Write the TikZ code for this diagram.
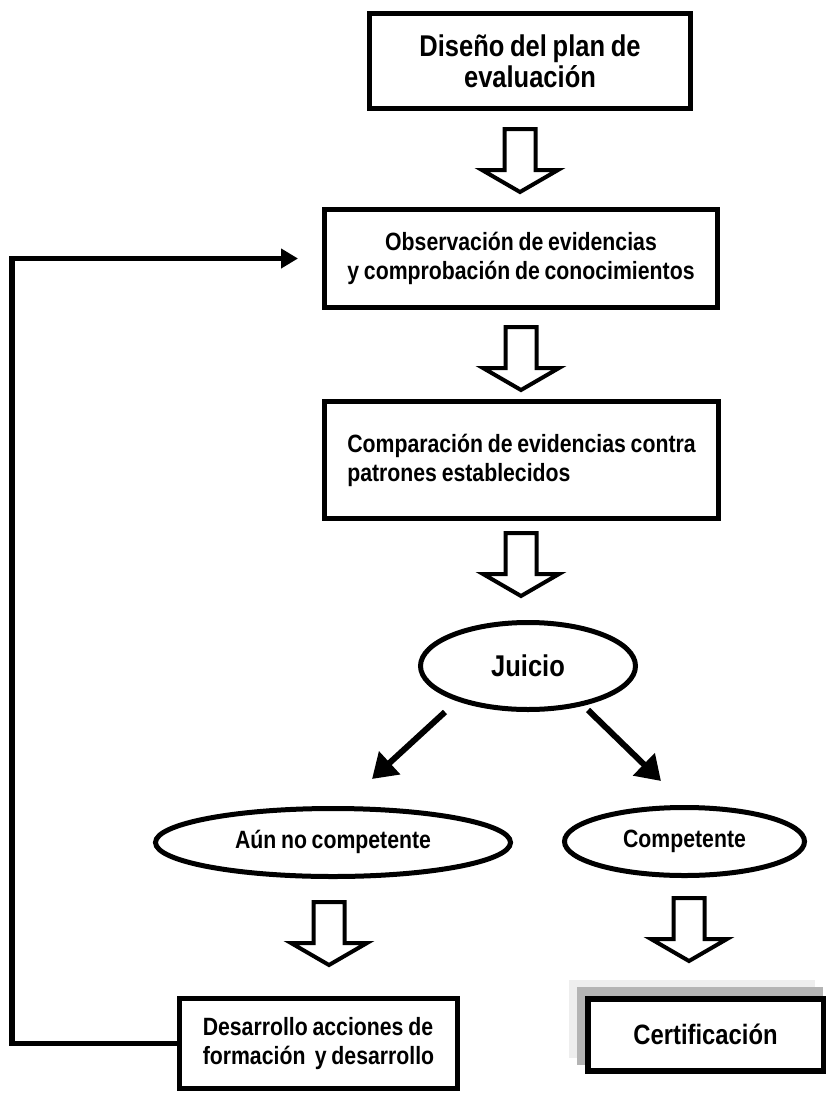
\documentclass[tikz,border=0pt]{standalone}
\usepackage{fontspec}
\setmainfont{Liberation Sans}
\newfontfamily\nar[FakeStretch=0.85,WordSpace=0.8]{Liberation Sans}
\usetikzlibrary{shapes.geometric,arrows.meta}
\definecolor{shadelight}{HTML}{EEEEEE}
\definecolor{shadedark}{HTML}{B4B4B4}
\begin{document}
\begin{tikzpicture}[x=1pt,y=-1pt,
  box/.style={draw,line width=5pt,inner sep=0pt,rectangle,
    font=\nar\bfseries\fontsize{25}{29}\selectfont,align=center},
  oval/.style={draw,ellipse,line width=5pt,inner sep=0pt,
    text height=17pt,text depth=5pt,
    font=\nar\bfseries\fontsize{25}{29}\selectfont},
  hollow/.style={draw,line width=4pt,fill=white,line join=miter},
  bigarrow/.style={line width=6pt,-{Triangle[length=24pt,width=30pt]}},
  fb/.style={line width=5.5pt,line join=miter,-{Triangle[length=17pt,width=19pt]}},
  pics/hollowarrow/.style={code={
    \draw[hollow] (-15.5,-63) -- (15.5,-63) -- (15.5,-22) -- (38,-22) -- (0,0)
      -- (-38,-22) -- (-15.5,-22) -- cycle;}}
]
\useasboundingbox (0,0) rectangle (826,1095);

% boxes
\node[box,minimum width=321pt,minimum height=95pt,
  font=\nar\bfseries\fontsize{30}{31}\selectfont] (plan) at (530,61)
  {Diseño del plan de\\evaluación};
\node[box,minimum width=393pt,minimum height=98pt] (obs) at (521,258.5)
  {Observación de evidencias\\y comprobación de conocimientos};
\node[box,minimum width=394pt,minimum height=117pt,align=left] (comp) at (521.5,460)
  {Comparación de evidencias contra\\patrones establecidos};
\node[oval,minimum width=215pt,minimum height=87pt,
  text height=21pt,text depth=1pt,
  font=\nar\bfseries\fontsize{30}{31}\selectfont] (juicio) at (528,666) {Juicio};
\node[oval,minimum width=355pt,minimum height=68pt] (aun) at (333,842.5)
  {Aún no competente};
\node[oval,minimum width=240pt,minimum height=68pt] (compe) at (684.5,841.5)
  {Competente};
\node[box,minimum width=278pt,minimum height=90pt,align=left] (des) at (318.5,1043.5)
  {Desarrollo acciones de\\formación\ \ y desarrollo};

% certification with shadow
\fill[shadelight] (569,980) rectangle (815,1058);
\fill[shadedark] (577,987) rectangle (823,1065);
\node[box,fill=white,line width=6pt,minimum width=236pt,minimum height=72pt,
  font=\nar\bfseries\fontsize{28}{30}\selectfont] (cert) at (705.5,1034.5)
  {Certificación};

% hollow arrows
\pic at (520,192) {hollowarrow};
\pic at (521,390) {hollowarrow};
\pic at (521,596) {hollowarrow};
\pic at (329,965) {hollowarrow};
\pic at (689,961) {hollowarrow};

% diagonal arrows
\coordinate (jl) at (445,712);
\coordinate (jlt) at (372,779);
\coordinate (jr) at (588,710);
\coordinate (jrt) at (661,781);
\draw[bigarrow] (jl) -- (jlt);
\draw[bigarrow] (jr) -- (jrt);

% feedback loop
\coordinate (fbx) at (12,0);
\coordinate (fbend) at ([xshift=-24pt]obs.west);
\draw[fb] (des.west) -- (des.west -| fbx) -- (fbend -| fbx) -- (fbend);
\end{tikzpicture}
\end{document}
